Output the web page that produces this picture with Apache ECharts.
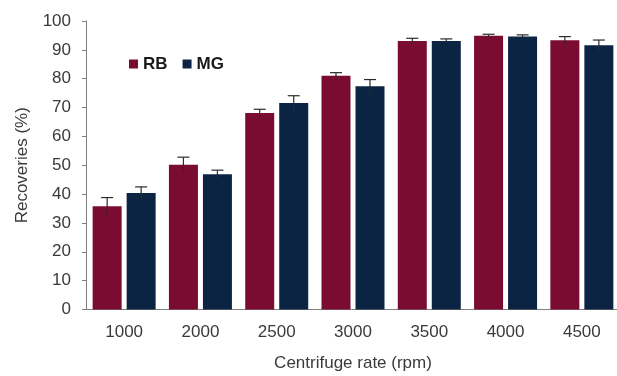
<!DOCTYPE html>
<html>
<head>
<meta charset="utf-8">
<script src="https://cdn.jsdelivr.net/npm/echarts@6/dist/echarts.min.js"></script>
<style>
  html, body { margin: 0; padding: 0; background: #ffffff; }
  #chart { width: 617px; height: 376px; }
</style>
</head>
<body>
<div id="chart"></div>
<script>
// Recovery of RB and MG at each centrifuge rate (mean and standard deviation, %)
var categories = ['1000', '2000', '2500', '3000', '3500', '4000', '4500'];
var rbValues = [35.8, 50.2, 68.1, 81.0, 93.1, 94.9, 93.3];
var rbErrors = [3.0, 2.6, 1.3, 1.1, 0.9, 0.5, 1.3];
var mgValues = [40.4, 46.9, 71.6, 77.4, 93.1, 94.6, 91.6];
var mgErrors = [2.1, 1.4, 2.5, 2.3, 0.7, 0.6, 1.8];

var RB_COLOR = '#7a0c31';
var MG_COLOR = '#0c2443';
var TEXT_COLOR = '#3a3a3a';
var FONT = 'Liberation Sans, Arial, sans-serif';
var BAR_WIDTH = 29;
var BAR_GAP = 5;

// Error bar drawn over one bar of a pair; side = -1 for the left bar, +1 for the right bar
function errorBarSeries(name, values, errors, side) {
  var data = values.map(function (v, i) { return [i, v, errors[i]]; });
  return {
    type: 'custom',
    name: name + ' error',
    z: 5,
    silent: true,
    data: data,
    renderItem: function (params, api) {
      var idx = api.value(0);
      var mean = api.value(1);
      var err = api.value(2);
      var top = api.coord([idx, mean + err]);
      var bottom = api.coord([idx, mean - err]);
      var x = top[0] + side * (BAR_WIDTH / 2 + BAR_GAP / 2);
      var half = 6;
      var style = { stroke: '#2b2b2b', lineWidth: 1.2 };
      return {
        type: 'group',
        children: [
          { type: 'line', shape: { x1: x, y1: top[1], x2: x, y2: bottom[1] }, style: style },
          { type: 'line', shape: { x1: x - half, y1: top[1], x2: x + half, y2: top[1] }, style: style }
        ]
      };
    }
  };
}

var chart = echarts.init(document.getElementById('chart'), null, { renderer: 'canvas' });

chart.setOption({
  animation: false,
  backgroundColor: '#ffffff',
  textStyle: { fontFamily: FONT },
  grid: {
    left: 86,
    top: 21,
    width: 534,
    bottom: 66.5,
    containLabel: false,
    outerBoundsMode: 'none'
  },
  legend: {
    left: 129,
    top: 55,
    padding: 0,
    icon: 'rect',
    itemWidth: 9,
    itemHeight: 9,
    itemGap: 15,
    data: ['RB', 'MG'],
    textStyle: {
      fontFamily: FONT,
      fontSize: 17,
      fontWeight: 'bold',
      color: '#1a1a1a',
      lineHeight: 18
    }
  },
  xAxis: {
    type: 'category',
    data: categories,
    name: 'Centrifuge rate (rpm)',
    nameLocation: 'middle',
    nameGap: 45,
    nameTextStyle: { fontFamily: FONT, fontSize: 17, color: TEXT_COLOR },
    axisLine: { show: true, lineStyle: { color: '#808080', width: 1 } },
    axisTick: { show: false },
    axisLabel: { fontFamily: FONT, fontSize: 17, color: TEXT_COLOR, margin: 14 },
    splitLine: { show: false }
  },
  yAxis: {
    type: 'value',
    min: 0,
    max: 100,
    interval: 10,
    name: 'Recoveries (%)',
    nameLocation: 'middle',
    nameGap: 55,
    nameTextStyle: { fontFamily: FONT, fontSize: 17, color: TEXT_COLOR },
    axisLine: { show: true, lineStyle: { color: '#808080', width: 1 } },
    axisTick: { show: true, inside: false, length: 4, lineStyle: { color: '#808080' } },
    axisLabel: { fontFamily: FONT, fontSize: 17, color: TEXT_COLOR, margin: 15 },
    splitLine: { show: false }
  },
  series: [
    {
      name: 'RB',
      type: 'bar',
      data: rbValues,
      barWidth: BAR_WIDTH,
      barGap: (BAR_GAP / BAR_WIDTH * 100) + '%',
      itemStyle: { color: RB_COLOR }
    },
    {
      name: 'MG',
      type: 'bar',
      data: mgValues,
      barWidth: BAR_WIDTH,
      barGap: (BAR_GAP / BAR_WIDTH * 100) + '%',
      itemStyle: { color: MG_COLOR }
    },
    errorBarSeries('RB', rbValues, rbErrors, -1),
    errorBarSeries('MG', mgValues, mgErrors, 1)
  ]
});
</script>
</body>
</html>
